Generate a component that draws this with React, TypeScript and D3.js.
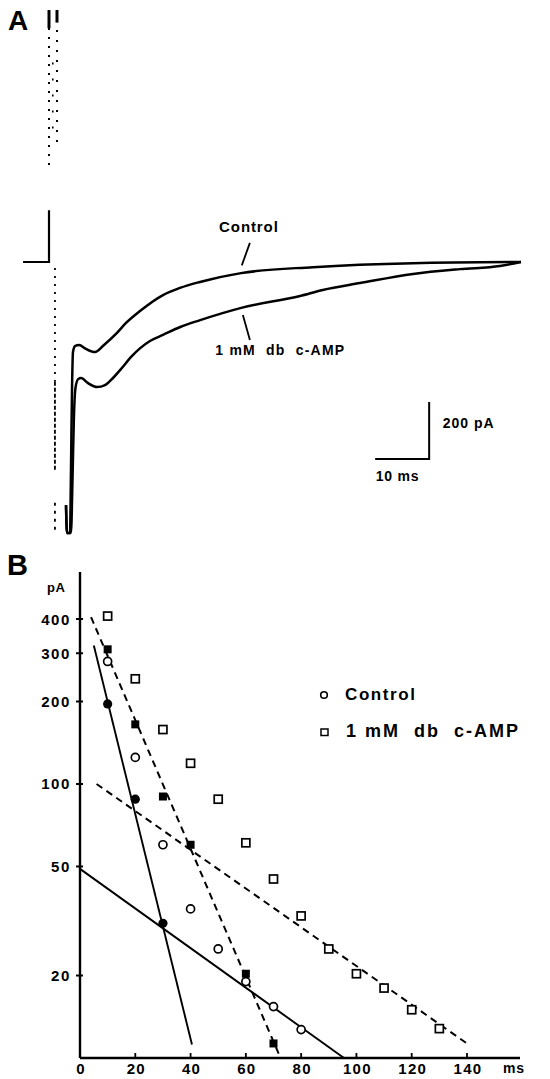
import React from "react";
import * as d3 from "d3";

// ---------- Panel A: current traces (time in ms after stimulus, current in pA) ----------
const holdingTime = [-4.8, 0, 0];
const holdingCurrent = [0, 0, 182];

const controlTime = [3.15, 3.33, 3.89, 4.07, 4.26, 4.44, 4.81, 5.56, 6.85, 8.52, 10.19, 12.59, 14.26, 16.85, 21.11, 24.26, 27.96, 35.56, 48.89, 67.4, 87.4];
const controlCurrent = [-853, -951, -951, -730, -449, -316, -295, -291, -305, -316, -291, -249, -214, -172, -116, -91, -70, -39, -18, -4, 0];

const campTime = [3.15, 3.33, 4.07, 4.35, 4.6, 4.9, 5.4, 5.93, 7.22, 8.89, 10.37, 11.85, 13.5, 15.2, 18.7, 21.1, 24.3, 28, 35.6, 46.5, 50.7, 57.6, 67.4, 76.1, 83.5, 87.4];
const campCurrent = [-853, -951, -951, -765, -554, -442, -411, -407, -425, -439, -432, -407, -372, -333, -277, -256, -228, -204, -161, -119, -98, -74, -42, -25, -14, 0];

// stimulus artifact columns: time, top current, bottom current, dash pattern, width
const artifactTime = [0, 1.48, 0.7, 1.1, 1.1, 1.1, 0, 1.48];
const artifactTop = [884, 884, 700, -21, -420, -845, 884, 884];
const artifactBottom = [333, 410, 450, -420, -730, -951, 820, 840];
const artifactDash = ["2 7", "2 8", "2 14", "2 6", "4 2", "3 5", "none", "none"];
const artifactWidth = [2, 2, 1.6, 1.8, 1.8, 1.8, 3, 3];

// scale bar
const barTime = [60.4, 70.4];
const barCurrent = [-691, -491];

// ---------- Panel B: semilog peeling plot ----------
const xTicks = [0, 20, 40, 60, 80, 100, 120, 140];
const yTicks = [20, 50, 100, 200, 300, 400];

const controlTimes = [10, 20, 30, 40, 50, 60, 70, 80];
const controlValues = [280, 125, 60, 35, 25, 19, 15.4, 12.7];
const controlFastTimes = [10, 20, 30];
const controlFastValues = [196, 88, 31];

const campTimes = [10, 20, 30, 40, 50, 60, 70, 80, 90, 100, 110, 120, 130];
const campValues = [410, 242, 158, 119, 88, 61, 45, 33, 25, 20.3, 18, 15, 12.8];
const campFastTimes = [10, 20, 30, 40, 60, 70];
const campFastValues = [310, 165, 90, 60, 20.3, 11.3];

// fitted exponentials (end points)
const controlFastFitT = [5, 40.5];
const controlFastFitV = [320, 11.2];
const controlSlowFitT = [0, 95.5];
const controlSlowFitV = [49, 10];
const campFastFitT = [4, 72];
const campFastFitV = [406, 10.3];
const campSlowFitT = [6, 140];
const campSlowFitV = [100, 11.3];

const FONT = "'Liberation Sans', Arial, Helvetica, sans-serif";

export default function App() {
  // Panel A scales
  const xA = d3.scaleLinear().domain([0, 10]).range([49, 103]);
  const yA = d3.scaleLinear().domain([0, 200]).range([262, 205]);
  const traceLine = d3
    .line<[number, number]>()
    .x((d) => xA(d[0]))
    .y((d) => yA(d[1]))
    .curve(d3.curveMonotoneX);
  const stepLine = d3
    .line<[number, number]>()
    .x((d) => xA(d[0]))
    .y((d) => yA(d[1]));

  const ctrl = controlTime.map((t, i) => [t, controlCurrent[i]] as [number, number]);
  const camp = campTime.map((t, i) => [t, campCurrent[i]] as [number, number]);
  const hold = holdingTime.map((t, i) => [t, holdingCurrent[i]] as [number, number]);

  // Panel B scales
  const xB = d3.scaleLinear().domain([0, 140]).range([80, 467]);
  const yB = d3.scaleLog().domain([10, 400]).range([1058, 619]);
  const fitLine = d3
    .line<[number, number]>()
    .x((d) => xB(d[0]))
    .y((d) => yB(d[1]));
  const pair = (ts: number[], vs: number[]) => ts.map((t, i) => [t, vs[i]] as [number, number]);

  const axisX = xB(0);
  const axisY = yB(10);

  const txt = { fontFamily: FONT, fontWeight: 700, fill: "#000" } as const;

  return (
    <svg
      width={550}
      height={1079}
      viewBox="0 0 550 1079"
      style={{ position: "absolute", left: 0, top: 0, background: "#fff" }}
    >
      <rect x={0} y={0} width={550} height={1079} fill="#fff" />

      {/* ---------------- Panel A ---------------- */}
      <text x={8} y={30} fontSize={28} {...txt}>A</text>

      {artifactTime.map((t, i) => (
        <line
          key={"art" + i}
          x1={xA(t)}
          x2={xA(t)}
          y1={yA(artifactTop[i])}
          y2={yA(artifactBottom[i])}
          stroke="#000"
          strokeWidth={artifactWidth[i]}
          strokeDasharray={artifactDash[i] === "none" ? undefined : artifactDash[i]}
        />
      ))}

      <path d={stepLine(hold) || ""} fill="none" stroke="#000" strokeWidth={2.2} />
      <path d={traceLine(ctrl) || ""} fill="none" stroke="#000" strokeWidth={2.5} strokeLinejoin="round" />
      <path d={traceLine(camp) || ""} fill="none" stroke="#000" strokeWidth={2.5} strokeLinejoin="round" />

      {/* pointers and labels */}
      <line x1={xA(37.2)} y1={yA(67)} x2={xA(35.7)} y2={yA(-12)} stroke="#000" strokeWidth={1.8} />
      <text x={xA(31.5)} y={yA(105)} fontSize={15} letterSpacing={0.9} {...txt}>Control</text>
      <line x1={xA(35.9)} y1={yA(-186)} x2={xA(37.2)} y2={yA(-274)} stroke="#000" strokeWidth={1.8} />
      <text x={xA(30.8)} y={yA(-326)} fontSize={14} letterSpacing={1.2} style={{ whiteSpace: "pre" }} {...txt}>
        {"1 mM  db  c-AMP"}
      </text>

      {/* scale bar */}
      <path
        d={stepLine([
          [barTime[0], barCurrent[0]],
          [barTime[1], barCurrent[0]],
          [barTime[1], barCurrent[1]],
        ]) || ""}
        fill="none"
        stroke="#000"
        strokeWidth={2}
      />
      <text x={xA(72.9)} y={yA(-582)} fontSize={14} letterSpacing={1} {...txt}>200 pA</text>
      <text x={xA(60.5)} y={yA(-768)} fontSize={14} letterSpacing={0.8} {...txt}>10 ms</text>

      {/* ---------------- Panel B ---------------- */}
      <text x={7} y={575} fontSize={29} {...txt}>B</text>

      {/* axes */}
      <line x1={axisX} x2={axisX} y1={axisY} y2={yB(594)} stroke="#000" strokeWidth={2.4} />
      <line x1={axisX} x2={520} y1={axisY} y2={axisY} stroke="#000" strokeWidth={2.4} />

      {yTicks.map((v) => (
        <g key={"yt" + v}>
          <line x1={axisX - 4} x2={axisX + 3} y1={yB(v)} y2={yB(v)} stroke="#000" strokeWidth={2} />
          <text
            x={axisX - 9}
            y={yB(v) + 5.5}
            fontSize={15}
            letterSpacing={1.6}
            textAnchor="end"
            {...txt}
          >
            {v}
          </text>
        </g>
      ))}
      <text x={47} y={592} fontSize={13} letterSpacing={0.5} {...txt}>pA</text>

      {xTicks.map((v) => (
        <g key={"xt" + v}>
          {v > 0 && (
            <line x1={xB(v)} x2={xB(v)} y1={axisY} y2={axisY - 5} stroke="#000" strokeWidth={1.8} />
          )}
          <text x={xB(v) + 1} y={1074} fontSize={15} letterSpacing={1.3} textAnchor="middle" {...txt}>
            {v}
          </text>
        </g>
      ))}
      <text x={503} y={1073} fontSize={14} letterSpacing={0.8} {...txt}>ms</text>

      {/* fitted lines */}
      <path d={fitLine(pair(controlFastFitT, controlFastFitV)) || ""} stroke="#000" strokeWidth={1.9} fill="none" />
      <path d={fitLine(pair(controlSlowFitT, controlSlowFitV)) || ""} stroke="#000" strokeWidth={1.9} fill="none" />
      <path
        d={fitLine(pair(campFastFitT, campFastFitV)) || ""}
        stroke="#000"
        strokeWidth={2}
        strokeDasharray="7 5"
        fill="none"
      />
      <path
        d={fitLine(pair(campSlowFitT, campSlowFitV)) || ""}
        stroke="#000"
        strokeWidth={2}
        strokeDasharray="7 5"
        fill="none"
      />

      {/* data points */}
      {campTimes.map((t, i) => (
        <rect
          key={"cs" + i}
          x={xB(t) - 4}
          y={yB(campValues[i]) - 4}
          width={8}
          height={8}
          fill="#fff"
          stroke="#000"
          strokeWidth={1.7}
        />
      ))}
      {controlTimes.map((t, i) => (
        <circle key={"co" + i} cx={xB(t)} cy={yB(controlValues[i])} r={4} fill="#fff" stroke="#000" strokeWidth={1.7} />
      ))}
      {campFastTimes.map((t, i) => (
        <rect key={"cf" + i} x={xB(t) - 4} y={yB(campFastValues[i]) - 4} width={8} height={8} fill="#000" />
      ))}
      {controlFastTimes.map((t, i) => (
        <circle key={"cff" + i} cx={xB(t)} cy={yB(controlFastValues[i])} r={4.6} fill="#000" />
      ))}

      {/* legend */}
      <circle cx={324} cy={695} r={3.3} fill="#fff" stroke="#000" strokeWidth={1.6} />
      <text x={345} y={700} fontSize={17} letterSpacing={1.6} {...txt}>Control</text>
      <rect x={321} y={729} width={7} height={6.5} fill="#fff" stroke="#000" strokeWidth={1.5} />
      <text x={346} y={737} fontSize={18} letterSpacing={2} style={{ whiteSpace: "pre" }} {...txt}>
        {"1 mM  db  c-AMP"}
      </text>
    </svg>
  );
}
